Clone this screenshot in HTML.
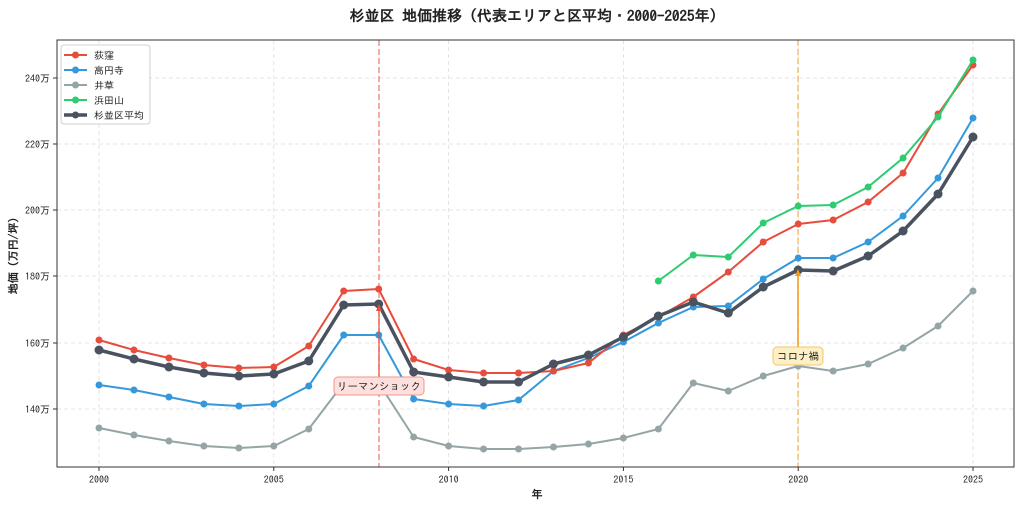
<!DOCTYPE html><html><head><meta charset="utf-8"><style>
body{margin:0;background:#fff}
svg text{font-family:"IPAGothic","Noto Sans CJK JP",sans-serif}
</style></head><body>
<svg id="s" width="1024" height="508" xmlns="http://www.w3.org/2000/svg">
<rect width="1024" height="508" fill="#fff"/>
<text x="537" y="21" font-size="15" font-weight="bold" text-anchor="middle" fill="#222">杉並区 地価推移（代表エリアと区平均・2000-2025年）</text>
<g id="grid" stroke="#ddd" stroke-dasharray="4,3" stroke-width="0.8"></g>
<line x1="379" y1="40" x2="379" y2="467" stroke="#e74c3c" stroke-width="1.3" stroke-dasharray="6,3" opacity="0.7"/>
<line x1="798" y1="40" x2="798" y2="467" stroke="#f39c12" stroke-width="1.3" stroke-dasharray="6,3" opacity="0.7"/>
<g id="series"></g>
<line x1="379" y1="378" x2="379" y2="309" stroke="#e74c3c" stroke-width="1.2"/>
<polygon points="379,304 376,311 382,311" fill="#e74c3c"/>
<line x1="798" y1="348" x2="798" y2="275" stroke="#f39c12" stroke-width="1.5"/>
<polygon points="798,269 795,276 801,276" fill="#f39c12"/>
<rect x="334" y="377" width="90" height="18" rx="4" fill="#fde0de" stroke="#f1948a"/>
<text x="379" y="390" font-size="10.5" text-anchor="middle" fill="#222">リーマンショック</text>
<rect x="773" y="347" width="50" height="18" rx="4" fill="#fdf0c4" stroke="#f5c56b"/>
<text x="798" y="360" font-size="10.5" text-anchor="middle" fill="#222">コロナ禍</text>
<rect x="57" y="40" width="957" height="427" fill="none" stroke="#333" stroke-width="1"/>
<g id="ticks" font-size="10" fill="#222"></g>
<text x="537" y="498" font-size="11" text-anchor="middle" font-weight="bold" fill="#222">年</text>
<text transform="translate(17,253) rotate(-90)" font-size="11" text-anchor="middle" font-weight="bold" fill="#222">地価（万円/坪）</text>
<rect x="61" y="45" width="89" height="79" rx="3" fill="#fff" stroke="#ccc" opacity="0.9"/>
<g id="leg" font-size="10" fill="#222"></g>
</svg>
<script>
const ns="http://www.w3.org/2000/svg",X=i=>99+34.96*i;
function el(p,t,a,txt){const e=document.createElementNS(ns,t);for(const k in a)e.setAttribute(k,a[k]);if(txt)e.textContent=txt;document.getElementById(p).appendChild(e);}
for(let y=2000;y<=2025;y+=5){const x=X(y-2000);el("grid","line",{x1:x,y1:40,x2:x,y2:467});el("ticks","line",{x1:x,y1:467,x2:x,y2:471,stroke:"#333"});el("ticks","text",{x:x,y:483,"text-anchor":"middle"},y);}
[[240,78],[220,144],[200,210],[180,276],[160,343],[140,409]].forEach(([v,y])=>{el("grid","line",{x1:57,y1:y,x2:1014,y2:y});el("ticks","line",{x1:53,y1:y,x2:57,y2:y,stroke:"#333"});el("ticks","text",{x:50,y:y+4,"text-anchor":"end"},v+"万");});
const S=[
["井草","#95a5a6",2,0,[428,435,441,446,448,446,429,383,383,437,446,449,449,447,444,438,429,383,391,376,366,371,364,348,326,291]],
["高円寺","#3498db",2,0,[385,390,397,404,406,404,386,335,335,399,404,406,400,371,358,342,323,307,306,279,258,258,242,216,178,118]],
["荻窪","#e74c3c",2,0,[340,350,358,365,368,367,346,291,289,359,370,373,373,371,363,335,317,297,272,242,224,220,202,173,114,65]],
["浜田山","#2ecc71",2,16,[281,255,257,223,206,205,187,158,117,60]],
["杉並区平均","#4a5260",3.5,0,[350,359,367,373,376,374,361,305,304,372,377,382,382,364,355,337,316,302,313,287,270,271,256,231,194,137]]];
S.forEach(([n,c,w,o,d])=>{el("series","polyline",{points:d.map((y,i)=>X(i+o)+","+y).join(" "),fill:"none",stroke:c,"stroke-width":w,"stroke-linejoin":"round"});d.forEach((y,i)=>el("series","circle",{cx:X(i+o),cy:y,r:w>3?4.5:3.5,fill:c}));});
const L=[["荻窪","#e74c3c",2],["高円寺","#3498db",2],["井草","#95a5a6",2],["浜田山","#2ecc71",2],["杉並区平均","#4a5260",3.5]];
L.forEach(([n,c,w],i)=>{const y=55+i*15;el("leg","line",{x1:64,y1:y,x2:87,y2:y,stroke:c,"stroke-width":w});el("leg","circle",{cx:75.5,cy:y,r:3.5,fill:c});el("leg","text",{x:94,y:y+4},n);});
</script>
</body></html>
